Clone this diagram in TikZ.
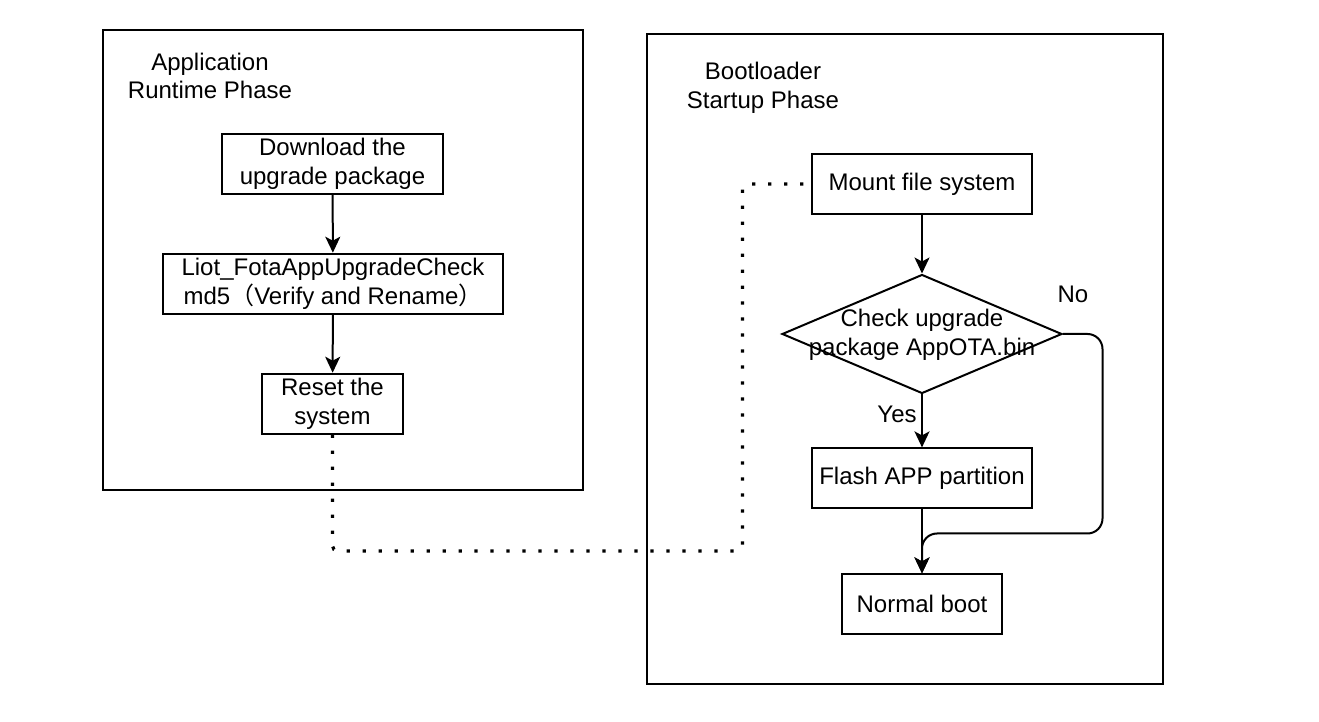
\documentclass[tikz,border=0pt]{standalone}
\usepackage{fontspec}
\setmainfont{Liberation Sans}
\newfontfamily\cjk{Noto Sans CJK SC}
\usetikzlibrary{shapes.geometric,arrows.meta}
\tikzset{
  px/.style={x=0.02cm,y=-0.02cm},
  lbl/.style={font=\fontsize{13.66pt}{16.4pt}\selectfont, align=center, inner sep=0pt},
  stepbox/.style={draw, line width=0.04cm, rectangle, inner sep=0pt, minimum height=1.2cm, font=\fontsize{13.66pt}{16.4pt}\selectfont, align=center},
  frame/.style={draw, line width=0.04cm, rectangle, inner sep=0pt},
  dia/.style={draw, line width=0.04cm, diamond, inner sep=0pt, minimum width=5.6cm, minimum height=2.38cm},
  flow/.style={line width=0.04cm, -{Stealth[length=0.32cm,width=0.3cm,inset=0.08cm]}},
  dotline/.style={line width=0.065cm, dash pattern=on 0.065cm off 0.255cm, rounded corners=0.1cm},
}
\begin{document}
\begin{tikzpicture}[px]
\path[use as bounding box, fill=white] (0,0) rectangle (1319,722);

% containers
\node[frame, minimum width=9.6cm, minimum height=9.2cm] (appc) at (343,260) {};
\node[frame, minimum width=10.32cm, minimum height=13cm] (bootc) at (905,359) {};
\node[lbl] (appt) at (210,76) {Application\\Runtime Phase};
\node[lbl] (boott) at (763,87.5) {Bootloader\\Startup Phase};

% left flow
\node[stepbox, minimum width=4.42cm] (dl) at (332.5,163.7) {Download the\\upgrade package};
\node[stepbox, minimum width=6.8cm] (chkmd) at (333,283.7) {Liot\_FotaAppUpgradeCheck\\md5{\cjk （}Verify and Rename{\cjk ）}};
\node[stepbox, minimum width=2.82cm] (rst) at (332.5,403.7) {Reset the\\system};

\draw[flow] (dl) -- (chkmd);
\draw[flow] (chkmd) -- (rst);

% right flow
\node[stepbox, minimum width=4.4cm] (mnt) at (922,184) {Mount file system};
\node[dia] (chk) at (922,334) {};
\node[lbl] (chkt) at (922,335) {Check upgrade\\package AppOTA.bin};
\node[stepbox, minimum width=4.4cm] (fl) at (922,478.4) {Flash APP partition};
\node[stepbox, minimum width=3.22cm] (nb) at (922,604.4) {Normal boot};

\draw[flow] (mnt) -- (chk);
\draw[flow] (chk) -- (fl);
\node[lbl] (yes) at (897,414) {Yes};
\draw[flow] (fl) -- (nb);

\coordinate (n1) at (1102.5,334);
\coordinate (n2) at (1102.5,533.5);
\coordinate (n3) at (922,533.5);
\draw[flow, rounded corners=0.3cm] (chk.east) -- (n1) -- (n2) -- (n3) -- (nb.north);
\node[lbl] (no) at (1073,294) {No};

% dotted link
\coordinate (d1) at (332.5,551);
\coordinate (d2) at (742.5,551);
\coordinate (d3) at (742.5,184);
\draw[dotline] (rst.south) -- (d1) -- (d2) -- (d3) -- (mnt.west);
\end{tikzpicture}
\end{document}
